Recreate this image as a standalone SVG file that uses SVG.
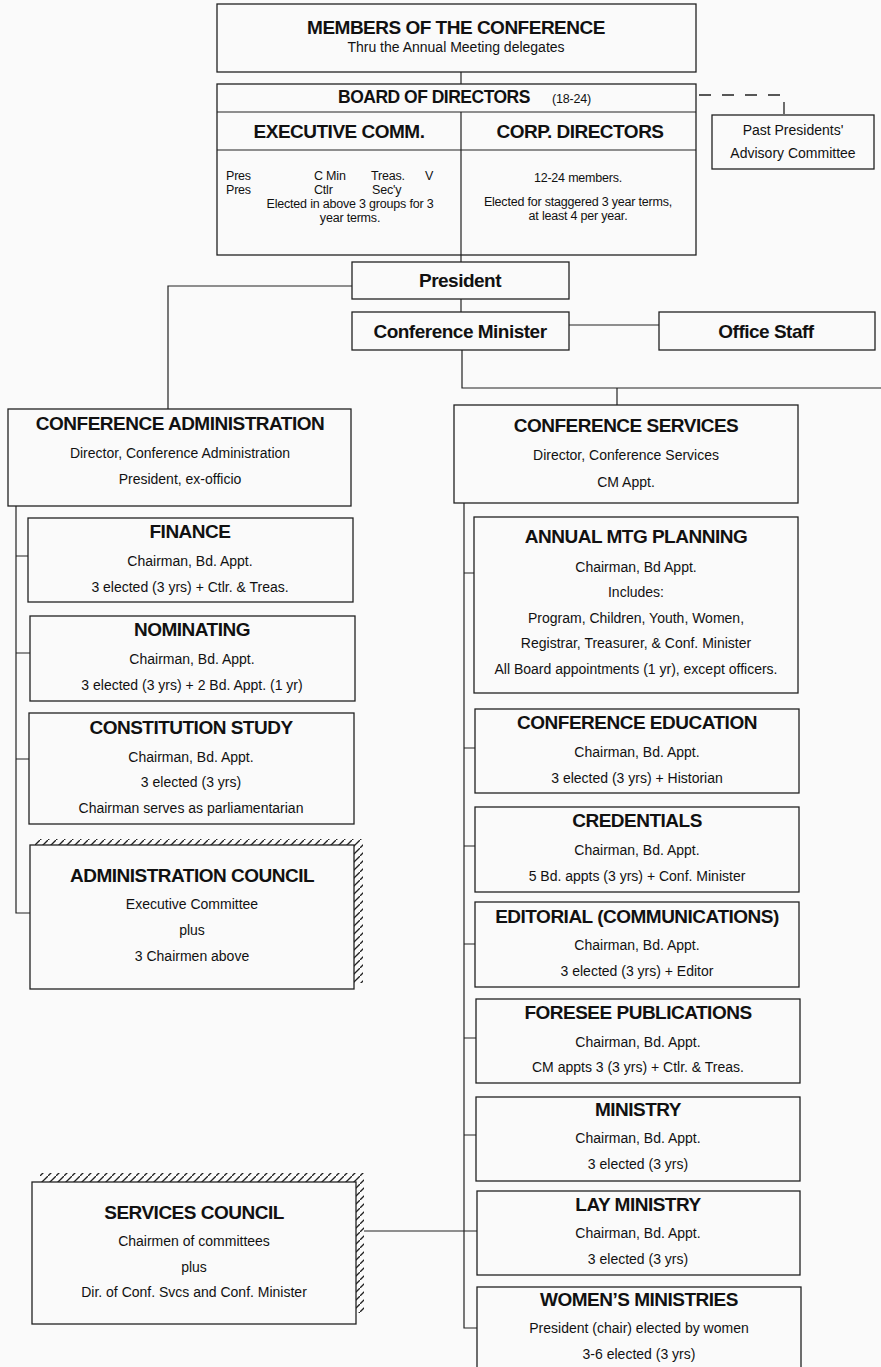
<svg xmlns="http://www.w3.org/2000/svg" width="881" height="1367" viewBox="0 0 881 1367">
<defs>
<style>
.box{fill:none;stroke:#222;stroke-width:1.3}
.ln{fill:none;stroke:#222;stroke-width:1.2}
.dash{fill:none;stroke:#222;stroke-width:1.3;stroke-dasharray:12 11}
text{font-family:"Liberation Sans",Arial,sans-serif;fill:#111}
.h{font-weight:bold;font-size:19px;letter-spacing:-0.5px;text-anchor:middle}
.hb{font-weight:bold;font-size:17.5px;letter-spacing:-0.5px}
.b{font-size:14px;text-anchor:middle}
.e{font-size:12.5px;letter-spacing:-0.2px}
.em{font-size:12.5px;letter-spacing:-0.2px;text-anchor:middle}
.hatch{fill:url(#hp);stroke:none}
</style>
<pattern id="hp" patternUnits="userSpaceOnUse" width="8" height="8">
<line x1="-1" y1="9" x2="9" y2="-1" stroke="#222" stroke-width="1.3"/>
</pattern>
</defs>
<rect x="0" y="0" width="881" height="1367" fill="#fafafa"/>

<g id="connectors">
<path class="ln" d="M461 72V84"/>
<path class="ln" d="M461 255V262"/>
<path class="ln" d="M461 299V312"/>
<path class="ln" d="M569 325H659"/>
<path class="ln" d="M352 286H168V409"/>
<path class="ln" d="M462 350V388H881"/>
<path class="ln" d="M617 388V405"/>
<path class="dash" d="M699 95H784V115"/>
<path class="ln" d="M16 506V913H30"/>
<path class="ln" d="M16 556H28M16 653H30M16 759H29"/>
<path class="ln" d="M464 503V1328H477"/>
<path class="ln" d="M464 573H474M464 748H475M464 846H475M464 944H475M464 1038H476M464 1135H476M364 1231H477"/>
</g>

<g id="members">
<rect class="box" x="217" y="4" width="479" height="68"/>
<text class="h" x="456" y="34">MEMBERS OF THE CONFERENCE</text>
<text class="b" x="456" y="52">Thru the Annual Meeting delegates</text>
</g>

<g id="board">
<rect class="box" x="217" y="84" width="479" height="171"/>
<path class="ln" d="M217 112H696M217 150H696M461 112V255"/>
<text class="hb" x="338" y="103">BOARD OF DIRECTORS</text>
<text class="e" x="552" y="103">(18-24)</text>
</g>

<g id="exec-comm">
<text class="h" x="339" y="138">EXECUTIVE COMM.</text>
<text class="e" x="226" y="180">Pres</text>
<text class="e" x="314" y="180">C Min</text>
<text class="e" x="371" y="180">Treas.</text>
<text class="e" x="425" y="180">V</text>
<text class="e" x="226" y="194">Pres</text>
<text class="e" x="314" y="194">Ctlr</text>
<text class="e" x="372" y="194">Sec'y</text>
<text class="em" x="350" y="208">Elected in above 3 groups for 3</text>
<text class="em" x="350" y="222">year terms.</text>
</g>

<g id="corp-directors">
<text class="h" x="580" y="138">CORP. DIRECTORS</text>
<text class="em" x="578" y="182">12-24 members.</text>
<text class="em" x="578" y="206">Elected for staggered 3 year terms,</text>
<text class="em" x="578" y="220">at least 4 per year.</text>
</g>

<g id="past-presidents">
<rect class="box" x="712" y="115" width="162" height="54"/>
<text class="b" x="793" y="135">Past Presidents'</text>
<text class="b" x="793" y="158">Advisory Committee</text>
</g>

<g id="president">
<rect class="box" x="352" y="262" width="217" height="37"/>
<text class="h" x="460" y="287">President</text>
</g>

<g id="conference-minister">
<rect class="box" x="352" y="312" width="217" height="38"/>
<text class="h" x="460" y="338">Conference Minister</text>
</g>

<g id="office-staff">
<rect class="box" x="659" y="312" width="216" height="38"/>
<text class="h" x="766" y="338">Office Staff</text>
</g>

<g id="conference-administration">
<rect class="box" x="8" y="409" width="343" height="97"/>
<text class="h" x="180" y="430">CONFERENCE ADMINISTRATION</text>
<text class="b" x="180" y="458">Director, Conference Administration</text>
<text class="b" x="180" y="484">President, ex-officio</text>
</g>

<g id="finance">
<rect class="box" x="28" y="518" width="325" height="84"/>
<text class="h" x="190" y="538">FINANCE</text>
<text class="b" x="190" y="566">Chairman, Bd. Appt.</text>
<text class="b" x="190" y="592">3 elected (3 yrs) + Ctlr. &amp; Treas.</text>
</g>

<g id="nominating">
<rect class="box" x="30" y="616" width="325" height="85"/>
<text class="h" x="192" y="636">NOMINATING</text>
<text class="b" x="192" y="664">Chairman, Bd. Appt.</text>
<text class="b" x="192" y="690">3 elected (3 yrs) + 2 Bd. Appt. (1 yr)</text>
</g>

<g id="constitution-study">
<rect class="box" x="29" y="713" width="325" height="111"/>
<text class="h" x="191" y="734">CONSTITUTION STUDY</text>
<text class="b" x="191" y="762">Chairman, Bd. Appt.</text>
<text class="b" x="191" y="787">3 elected (3 yrs)</text>
<text class="b" x="191" y="813">Chairman serves as parliamentarian</text>
</g>

<g id="administration-council">
<polygon class="hatch" points="35,839 363,839 363,983 354,983 354,845 35,845"/>
<rect class="box" x="30" y="845" width="324" height="144"/>
<text class="h" x="192" y="882">ADMINISTRATION COUNCIL</text>
<text class="b" x="192" y="909">Executive Committee</text>
<text class="b" x="192" y="935">plus</text>
<text class="b" x="192" y="961">3 Chairmen above</text>
</g>

<g id="services-council">
<polygon class="hatch" points="40,1173 364,1173 364,1313 356,1313 356,1182 40,1182"/>
<rect class="box" x="32" y="1182" width="324" height="142"/>
<text class="h" x="194" y="1219">SERVICES COUNCIL</text>
<text class="b" x="194" y="1246">Chairmen of committees</text>
<text class="b" x="194" y="1272">plus</text>
<text class="b" x="194" y="1297">Dir. of Conf. Svcs and Conf. Minister</text>
</g>

<g id="conference-services">
<rect class="box" x="454" y="405" width="344" height="98"/>
<text class="h" x="626" y="432">CONFERENCE SERVICES</text>
<text class="b" x="626" y="460">Director, Conference Services</text>
<text class="b" x="626" y="487">CM Appt.</text>
</g>

<g id="annual-mtg-planning">
<rect class="box" x="474" y="517" width="324" height="176"/>
<text class="h" x="636" y="543">ANNUAL MTG PLANNING</text>
<text class="b" x="636" y="572">Chairman, Bd Appt.</text>
<text class="b" x="636" y="597">Includes:</text>
<text class="b" x="636" y="623">Program, Children, Youth, Women,</text>
<text class="b" x="636" y="648">Registrar, Treasurer, &amp; Conf. Minister</text>
<text class="b" x="636" y="674">All Board appointments (1 yr), except officers.</text>
</g>

<g id="conference-education">
<rect class="box" x="475" y="709" width="324" height="84"/>
<text class="h" x="637" y="729">CONFERENCE EDUCATION</text>
<text class="b" x="637" y="757">Chairman, Bd. Appt.</text>
<text class="b" x="637" y="783">3 elected (3 yrs) + Historian</text>
</g>

<g id="credentials">
<rect class="box" x="475" y="807" width="324" height="85"/>
<text class="h" x="637" y="827">CREDENTIALS</text>
<text class="b" x="637" y="855">Chairman, Bd. Appt.</text>
<text class="b" x="637" y="881">5 Bd. appts (3 yrs) + Conf. Minister</text>
</g>

<g id="editorial">
<rect class="box" x="475" y="902" width="324" height="85"/>
<text class="h" x="637" y="923">EDITORIAL (COMMUNICATIONS)</text>
<text class="b" x="637" y="950">Chairman, Bd. Appt.</text>
<text class="b" x="637" y="976">3 elected (3 yrs) + Editor</text>
</g>

<g id="foresee-publications">
<rect class="box" x="476" y="999" width="324" height="84"/>
<text class="h" x="638" y="1019">FORESEE PUBLICATIONS</text>
<text class="b" x="638" y="1047">Chairman, Bd. Appt.</text>
<text class="b" x="638" y="1072">CM appts 3 (3 yrs) + Ctlr. &amp; Treas.</text>
</g>

<g id="ministry">
<rect class="box" x="476" y="1097" width="324" height="84"/>
<text class="h" x="638" y="1116">MINISTRY</text>
<text class="b" x="638" y="1143">Chairman, Bd. Appt.</text>
<text class="b" x="638" y="1169">3 elected (3 yrs)</text>
</g>

<g id="lay-ministry">
<rect class="box" x="477" y="1191" width="323" height="84"/>
<text class="h" x="638" y="1211">LAY MINISTRY</text>
<text class="b" x="638" y="1238">Chairman, Bd. Appt.</text>
<text class="b" x="638" y="1264">3 elected (3 yrs)</text>
</g>

<g id="womens-ministries">
<rect class="box" x="477" y="1287" width="324" height="100"/>
<text class="h" x="639" y="1306">WOMEN’S MINISTRIES</text>
<text class="b" x="639" y="1333">President (chair) elected by women</text>
<text class="b" x="639" y="1359">3-6 elected (3 yrs)</text>
</g>
</svg>
